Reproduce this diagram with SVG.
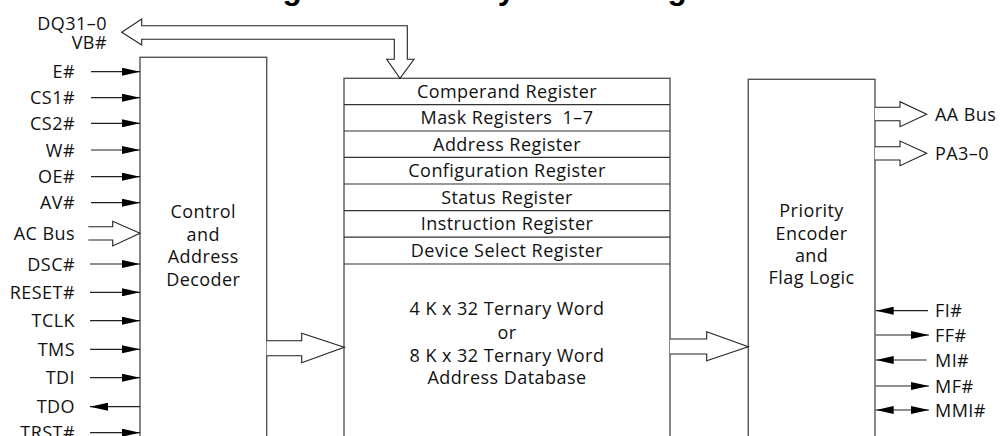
<svg xmlns="http://www.w3.org/2000/svg" width="1000" height="436" viewBox="0 0 1000 436">
<style>
.box{fill:#fff;stroke:#555;stroke-width:1.4}
.row{stroke:#333;stroke-width:1.2}
.t{font-family:"Open Sans","Liberation Sans",sans-serif;font-size:18px;letter-spacing:0.45px;fill:#111}
.m{text-anchor:middle}
.e{text-anchor:end}
.s{fill:none;stroke:#222;stroke-width:1.2}
.bus{fill:#fff;stroke:#222;stroke-width:1.1;stroke-linejoin:miter}
.title{font-family:"Liberation Sans",Arial,sans-serif;font-weight:bold;font-size:31.5px;fill:#000}
</style>
<defs>
<marker id="ah" markerUnits="userSpaceOnUse" markerWidth="18" markerHeight="8" refX="18" refY="4" orient="auto">
<path d="M0,0 L18,4 L0,8 z" fill="#000"/>
</marker>
<marker id="ahs" markerUnits="userSpaceOnUse" markerWidth="18" markerHeight="8" refX="0" refY="4" orient="auto">
<path d="M18,0 L0,4 L18,8 z" fill="#000"/>
</marker>
</defs>
<text class="title" x="254.4" y="-1.5">Figure 1. Memory Block Diagram</text>

<g id="control">
<rect class="box" x="140" y="57.3" width="126.7" height="400"/>
<text class="t m" x="203.3" y="218">Control</text>
<text class="t m" x="203.3" y="241">and</text>
<text class="t m" x="203.3" y="263">Address</text>
<text class="t m" x="203.3" y="286">Decoder</text>
</g>

<g id="registers">
<rect class="box" x="344" y="78.3" width="326" height="400"/>
<line class="row" x1="344" y1="104.6" x2="670" y2="104.6"/>
<line class="row" x1="344" y1="131" x2="670" y2="131"/>
<line class="row" x1="344" y1="157.4" x2="670" y2="157.4"/>
<line class="row" x1="344" y1="184" x2="670" y2="184"/>
<line class="row" x1="344" y1="210.6" x2="670" y2="210.6"/>
<line class="row" x1="344" y1="237.2" x2="670" y2="237.2"/>
<line class="row" x1="344" y1="264" x2="670" y2="264"/>
<text class="t m" x="507" y="97.5">Comperand Register</text>
<text class="t m" x="507" y="124" style="white-space:pre">Mask Registers  1–7</text>
<text class="t m" x="507" y="150.5">Address Register</text>
<text class="t m" x="507" y="177">Configuration Register</text>
<text class="t m" x="507" y="203.5">Status Register</text>
<text class="t m" x="507" y="230">Instruction Register</text>
<text class="t m" x="507" y="256.5">Device Select Register</text>
<text class="t m" x="507" y="314.5">4 K x 32 Ternary Word</text>
<text class="t m" x="507" y="338.5">or</text>
<text class="t m" x="507" y="361.5">8 K x 32 Ternary Word</text>
<text class="t m" x="507" y="383.5">Address Database</text>
</g>

<g id="priority">
<rect class="box" x="748.3" y="79.3" width="126.7" height="400"/>
<text class="t m" x="811.6" y="217">Priority</text>
<text class="t m" x="811.6" y="240">Encoder</text>
<text class="t m" x="811.6" y="262">and</text>
<text class="t m" x="811.6" y="284">Flag Logic</text>
</g>

<g id="labels">
<text class="t e" x="107" y="29.5">DQ31–0</text>
<text class="t e" x="107" y="48.5">VB#</text>
<text class="t e" x="75" y="78">E#</text>
<text class="t e" x="75" y="104">CS1#</text>
<text class="t e" x="75" y="129.5">CS2#</text>
<text class="t e" x="75" y="156.5">W#</text>
<text class="t e" x="75" y="183">OE#</text>
<text class="t e" x="75" y="209">AV#</text>
<text class="t e" x="75" y="239.5">AC Bus</text>
<text class="t e" x="75" y="270.5">DSC#</text>
<text class="t e" x="75" y="298.5">RESET#</text>
<text class="t e" x="75" y="327">TCLK</text>
<text class="t e" x="75" y="355.5">TMS</text>
<text class="t e" x="75" y="384">TDI</text>
<text class="t e" x="75" y="413">TDO</text>
<text class="t e" x="75" y="439">TRST#</text>
<text class="t" x="935" y="120.5">AA Bus</text>
<text class="t" x="935" y="159.5">PA3–0</text>
<text class="t" x="935" y="317">FI#</text>
<text class="t" x="935" y="341.5">FF#</text>
<text class="t" x="935" y="366.5">MI#</text>
<text class="t" x="935" y="392.5">MF#</text>
<text class="t" x="935" y="416.5">MMI#</text>
</g>

<g id="connectors">
<line class="s" x1="91" y1="71.7" x2="140" y2="71.7" marker-end="url(#ah)"/>
<line class="s" x1="91" y1="97.7" x2="140" y2="97.7" marker-end="url(#ah)"/>
<line class="s" x1="91" y1="123.3" x2="140" y2="123.3" marker-end="url(#ah)"/>
<line class="s" x1="91" y1="150" x2="140" y2="150" marker-end="url(#ah)"/>
<line class="s" x1="91" y1="176.7" x2="140" y2="176.7" marker-end="url(#ah)"/>
<line class="s" x1="91" y1="202.7" x2="140" y2="202.7" marker-end="url(#ah)"/>
<line class="s" x1="90" y1="264" x2="140" y2="264" marker-end="url(#ah)"/>
<line class="s" x1="90" y1="292.3" x2="140" y2="292.3" marker-end="url(#ah)"/>
<line class="s" x1="90" y1="320.7" x2="140" y2="320.7" marker-end="url(#ah)"/>
<line class="s" x1="90" y1="349.3" x2="140" y2="349.3" marker-end="url(#ah)"/>
<line class="s" x1="90" y1="377.7" x2="140" y2="377.7" marker-end="url(#ah)"/>
<line class="s" x1="140" y1="406.7" x2="90" y2="406.7" marker-end="url(#ah)"/>
<line class="s" x1="90" y1="432.7" x2="140" y2="432.7" marker-end="url(#ah)"/>

<line class="s" x1="928" y1="310.7" x2="875.7" y2="310.7" marker-end="url(#ah)"/>
<line class="s" x1="875.7" y1="335" x2="929" y2="335" marker-end="url(#ah)"/>
<line class="s" x1="926.7" y1="360" x2="875.7" y2="360" marker-end="url(#ah)"/>
<line class="s" x1="875.7" y1="386" x2="929" y2="386" marker-end="url(#ah)"/>
<line class="s" x1="875.7" y1="410" x2="929" y2="410" marker-start="url(#ahs)" marker-end="url(#ah)"/>

<path class="bus" d="M88.3,226.7 H112.7 V221.3 L140,233.3 L112.7,246 V240 H88.3"/>
<path class="bus" d="M266.7,340.7 H301.7 V333.3 L344.3,347.3 L301.7,362.7 V355.7 H266.7"/>
<path class="bus" d="M670,339 H706.7 V331.7 L748.3,346.7 L706.7,360.7 V354 H670"/>
<path class="bus" d="M875,107.3 H900 V101.7 L926.7,114.3 L900,126.7 V120.7 H875"/>
<path class="bus" d="M875,146.7 H900 V141 L926.7,153.3 L900,165.7 V160 H875"/>
<path class="bus" d="M141.7,25.7 H407.3 V59.3 H414 L400,78.3 L386.7,59.3 H394.3 V39.3 H141.7 V45 L121.7,32.3 L141.7,19 Z"/>
</g>
</svg>
